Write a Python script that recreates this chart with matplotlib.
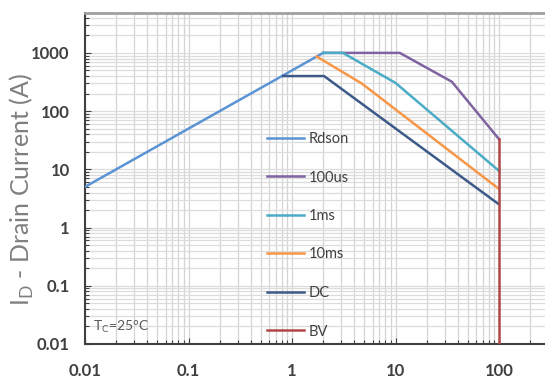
import matplotlib
matplotlib.use("Agg")
import matplotlib.pyplot as plt
from matplotlib.ticker import LogLocator, FixedLocator, FixedFormatter, NullFormatter

# ---- data ----
rdson_v = [0.01, 2.0]
rdson_i = [5, 1000]
us100_v = [2.0, 11.0, 35.0, 100.0]
us100_i = [1000, 1000, 320, 33]
ms1_v = [2.0, 3.1, 10.0, 100.0]
ms1_i = [1000, 1000, 305, 9.4]
ms10_v = [1.73, 4.7, 100.0]
ms10_i = [865, 300, 4.6]
dc_v = [0.82, 2.04, 100.0]
dc_i = [400, 400, 2.5]
bv_v = [100.0, 100.0]
bv_i = [0.01, 33]

series_labels = ["Rdson", "100us", "1ms", "10ms", "DC", "BV"]
series_colors = ["#5b93d3", "#8064a2", "#4bacc6", "#f79646", "#3d5a88", "#b0484a"]

x_ticks = [0.01, 0.1, 1, 10, 100]
x_ticklabels = ["0.01", "0.1", "1", "10", "100"]
y_ticks = [0.01, 0.1, 1, 10, 100, 1000]
y_ticklabels = ["0.01", "0.1", "1", "10", "100", "1000"]

plt.rcParams['font.family'] = ['Lato', 'DejaVu Sans']

W, H = 545, 380
fig = plt.figure(figsize=(W / 100, H / 100), dpi=100)
left_px, right_px, top_px, bot_px = 85, 85 + 5 * 103.5, 12.7, 344
ax = fig.add_axes([left_px / W, 1 - bot_px / H, (right_px - left_px) / W, (bot_px - top_px) / H])

ax.set_xscale('log')
ax.set_yscale('log')
ax.set_xlim(0.01, 1000)
ax.set_ylim(0.01, 4900)

xs = [rdson_v, us100_v, ms1_v, ms10_v, dc_v, bv_v]
ys = [rdson_i, us100_i, ms1_i, ms10_i, dc_i, bv_i]
for xv, yv, lab, col in zip(xs, ys, series_labels, series_colors):
    ax.plot(xv, yv, color=col, lw=1.8, label=lab, solid_joinstyle='miter', zorder=3)

ax.xaxis.set_major_locator(FixedLocator(x_ticks + [1000]))
ax.xaxis.set_major_formatter(FixedFormatter(x_ticklabels + [""]))
ax.yaxis.set_major_locator(FixedLocator(y_ticks))
ax.yaxis.set_major_formatter(FixedFormatter(y_ticklabels))
ax.xaxis.set_minor_locator(LogLocator(base=10, subs=range(2, 10), numticks=20))
ax.yaxis.set_minor_locator(LogLocator(base=10, subs=range(2, 10), numticks=20))
ax.xaxis.set_minor_formatter(NullFormatter())
ax.yaxis.set_minor_formatter(NullFormatter())

ax.grid(True, which='both', axis='x', color='#d4d4d4', lw=0.9, zorder=0)
ax.grid(True, which='both', axis='y', color='#dcdcdc', lw=0.9, zorder=0)
ax.set_axisbelow(True)

ax.tick_params(axis='both', which='both', direction='in', color='#404040', width=0.8)
ax.tick_params(axis='both', which='major', length=4)
ax.tick_params(axis='both', which='minor', length=3)
ax.tick_params(axis='x', which='major', pad=14, labelsize=12, labelcolor='#404040')
ax.tick_params(axis='y', which='major', pad=11, labelsize=12, labelcolor='#404040')
for lbl in ax.get_xticklabels() + ax.get_yticklabels():
    lbl.set_fontweight('bold')

ax.spines['right'].set_visible(False)
ax.spines['top'].set_color('#a0a0a0')
ax.spines['top'].set_linewidth(2)
for s in ['left', 'bottom']:
    ax.spines[s].set_color('#404040')
    ax.spines[s].set_linewidth(1.5)

fig.text(22 / W, 1 - 190 / H, r'I$_\mathregular{D}$ - Drain Current (A)', rotation=90,
         ha='center', va='center', fontsize=18, color='#7f7f7f')

fig.text(93 / W, 1 - 327 / H, r'T$_\mathregular{C}$=25°C', ha='left', va='center',
         fontsize=10, color='#595959')

leg = ax.legend(loc='upper left', bbox_to_anchor=(267 / W, 1 - 132 / H),
                bbox_transform=fig.transFigure, frameon=False, fontsize=10.5,
                handlelength=2.55, handletextpad=0.3, labelspacing=1.68,
                borderpad=0, borderaxespad=0)
for t in leg.get_texts():
    t.set_color('#404040')

fig.savefig('out.png', dpi=100)
